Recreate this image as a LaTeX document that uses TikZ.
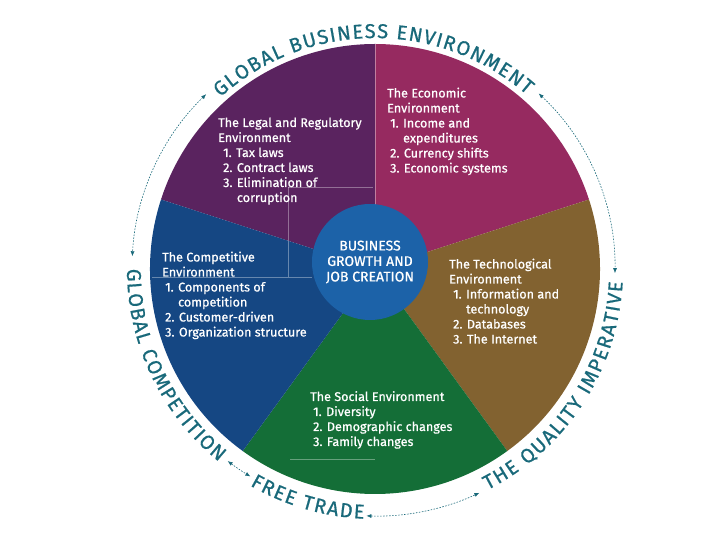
\documentclass[tikz,border=0pt]{standalone}
\usepackage{fontspec}
\setmainfont{Fira Sans}
\newfontfamily\medfont{Fira Sans}[FakeBold=0.7]
\usetikzlibrary{decorations.text,arrows.meta}
\definecolor{legalpurple}{HTML}{5A235F}
\definecolor{econmagenta}{HTML}{962A60}
\definecolor{techbrown}{HTML}{826230}
\definecolor{socialgreen}{HTML}{146E37}
\definecolor{compblue}{HTML}{154783}
\definecolor{coreblue}{HTML}{1C62A8}
\definecolor{ringteal}{HTML}{19697A}
\newcommand\ringfont{\medfont\fontsize{20}{20}\selectfont}
\begin{document}
\begin{tikzpicture}[x=1pt,y=1pt,
	sectortext/.style={text=white,align=left,anchor=base west,inner sep=0pt,font=\medfont\fontsize{12.6}{15}\selectfont},
	coretext/.style={circle,fill=coreblue,minimum size=116pt,inner sep=0pt,text=white,align=center,font=\medfont\fontsize{14}{15.5}\selectfont},
	ringarrow/.style={ringteal,line width=.6pt,dash pattern=on 1.6pt off 1.4pt,{Latex[length=5pt,width=4pt]}-{Latex[length=5pt,width=4pt]}},
	ringtext/.style={decorate,decoration={text along path,text align=fit to path,text color=ringteal}},
	guide/.style={white,opacity=.35,line width=.5pt}]
		\useasboundingbox (-375,-271) rectangle (345,269);
		\coordinate (c) at (0,0);
		
		% the five environments
		\fill[legalpurple] (c) -- (90:225) arc[start angle=90,end angle=162,radius=225] -- cycle;
		\fill[econmagenta] (c) -- (18:225) arc[start angle=18,end angle=90,radius=225] -- cycle;
		\fill[techbrown] (c) -- (-54:225) arc[start angle=-54,end angle=18,radius=225] -- cycle;
		\fill[socialgreen] (c) -- (-126:225) arc[start angle=-126,end angle=-54,radius=225] -- cycle;
		\fill[compblue] (c) -- (162:225) arc[start angle=162,end angle=234,radius=225] -- cycle;
		\draw[white,opacity=.4,line width=.4pt] (c) -- (90:225);
		
		\draw[guide] (-87,82) -- (-2,82); \draw[guide] (-87,82) -- (-87,-8);
		\draw[guide] (-223,-8) -- (-63,-8); \draw[guide] (-85,-190) -- (0,-190);
		
		% anchored at the baseline of the last line
		\node[sectortext] (legal) at (-157,67) {The Legal and Regulatory\\Environment\\\hspace{5pt}1. Tax laws\\\hspace{5pt}2. Contract laws\\\hspace{5pt}3. Elimination of\\\hspace{5pt}\phantom{3. }corruption};
		\node[sectortext] (econ) at (12,96.5) {The Economic\\Environment\\\hspace{3pt}1. Income and\\\hspace{3pt}\phantom{1. }expenditures\\\hspace{3pt}2. Currency shifts\\\hspace{3pt}3. Economic systems};
		\node[sectortext] (comp) at (-213,-67.5) {The Competitive\\Environment\\\hspace{3pt}1. Components of\\\hspace{3pt}\phantom{1. }competition\\\hspace{3pt}2. Customer-driven\\\hspace{3pt}3. Organization structure};
		\node[sectortext] (tech) at (74,-74.5) {The Technological\\Environment\\\hspace{4pt}1. Information and\\\hspace{4pt}\phantom{1. }technology\\\hspace{4pt}2. Databases\\\hspace{4pt}3. The Internet};
		\node[sectortext] (social) at (-65,-177) {The Social Environment\\\hspace{3pt}1. Diversity\\\hspace{3pt}2. Demographic changes\\\hspace{3pt}3. Family changes};
		
		\node[coretext] (core) at (-5,7) {BUSINESS\\GROWTH AND\\JOB CREATION};
		
		% outer ring
		\path[ringtext,decoration={text={|\ringfont|GLOBAL BUSINESS ENVIRONMENT}}] (132:231) arc[start angle=132,end angle=49,radius=231];
		\path[ringtext,decoration={text={|\ringfont|GLOBAL COMPETITION}}] (180:248) arc[start angle=180,end angle=231,radius=248];
		\path[ringtext,decoration={text={|\ringfont|FREE TRADE}}] (240:250) arc[start angle=240,end angle=267.5,radius=250];
		\path[ringtext,decoration={text={|\ringfont|THE QUALITY IMPERATIVE}}] (297:248) arc[start angle=297,end angle=357,radius=248];
		
		\coordinate (a1) at (134:243); \coordinate (a2) at (47:240); \coordinate (a3) at (232.5:242); \coordinate (a4) at (268:247);
		\draw[ringarrow] (a1) arc[start angle=134,end angle=177,radius=243];
		\draw[ringarrow] (a2) arc[start angle=47,end angle=-1,radius=240];
		\draw[ringarrow] (a3) arc[start angle=232.5,end angle=239,radius=242];
		\draw[ringarrow] (a4) arc[start angle=268,end angle=295,radius=247];
\end{tikzpicture}
\end{document}
